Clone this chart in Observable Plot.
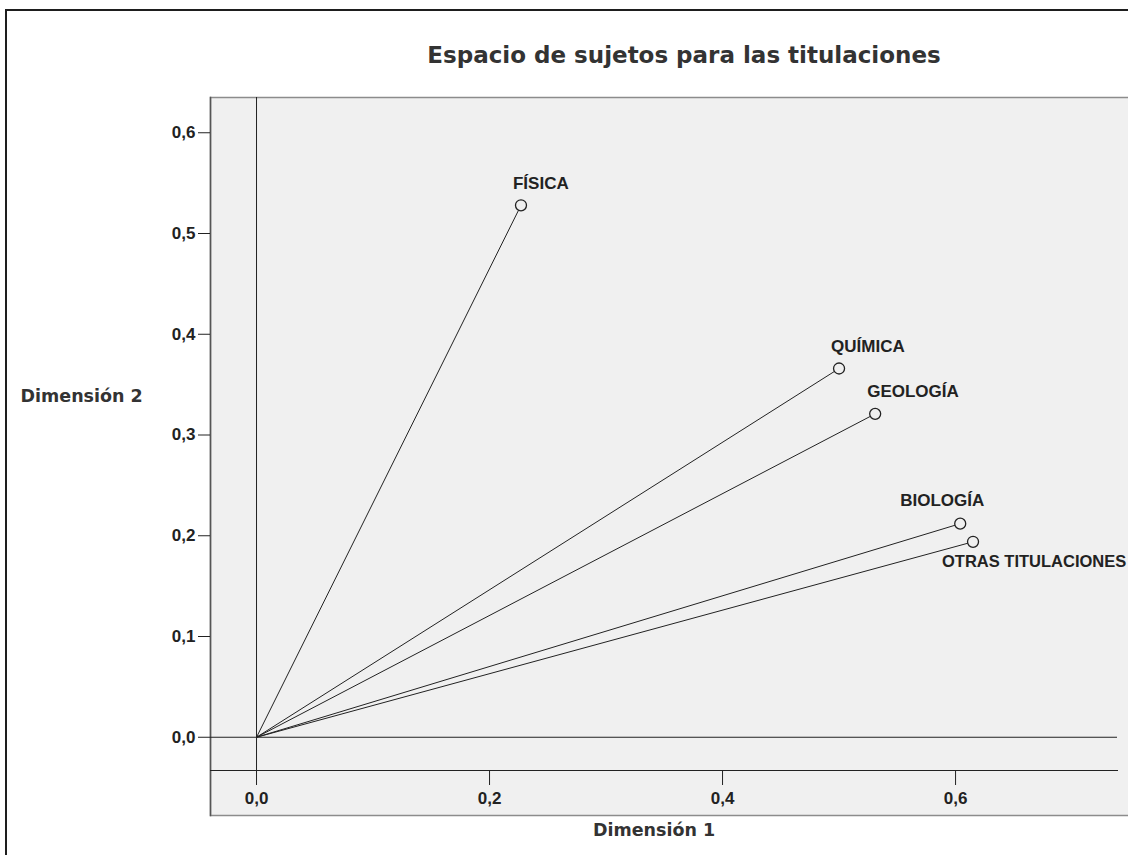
<!DOCTYPE html>
<html>
<head>
<meta charset="utf-8">
<script src="https://cdn.jsdelivr.net/npm/d3@7"></script>
<script src="https://cdn.jsdelivr.net/npm/@observablehq/plot@0.6"></script>
<style>
  html, body { margin: 0; padding: 0; background: #fff; overflow: hidden; }
  #wrap { position: relative; width: 1128px; height: 855px; overflow: hidden; }
  #border { position: absolute; left: 5px; top: 9px; width: 2000px; height: 2000px;
            border-left: 2px solid #1e1e1e; border-top: 2px solid #1e1e1e; }
  #chart { position: absolute; left: 0; top: 0; }
</style>
</head>
<body>
<div id="wrap"><div id="border"></div><div id="chart"></div></div>
<script>
const names = ["FÍSICA", "QUÍMICA", "GEOLOGÍA", "BIOLOGÍA", "OTRAS TITULACIONES"];
const dim1 = [0.227, 0.500, 0.531, 0.604, 0.615];
const dim2 = [0.528, 0.366, 0.321, 0.212, 0.194];
const xTicks = [0, 0.2, 0.4, 0.6];
const yTicks = [0, 0.1, 0.2, 0.3, 0.4, 0.5, 0.6];
const title = "Espacio de sujetos para las titulaciones";
const xLabel = "Dimensión 1";
const yLabel = "Dimensión 2";

const data = names.map((n, i) => ({name: n, d1: dim1[i], d2: dim2[i]}));
const fmt = d => d.toFixed(1).replace(".", ",");
const labelFont = "Liberation Sans, Arial, sans-serif";
const titleFont = "DejaVu Sans, Verdana, sans-serif";
const ink = "#222";

const groupAbove = ["FÍSICA", "QUÍMICA", "GEOLOGÍA"];

const chart = Plot.plot({
  width: 1128,
  height: 855,
  marginLeft: 210,
  marginRight: 11,
  marginTop: 97,
  marginBottom: 85,
  style: {background: "transparent", overflow: "visible"},
  x: {domain: [-0.0395, 0.739]},
  y: {domain: [-0.033, 0.635]},
  marks: [
    Plot.frame({fill: "#f0f0f0", stroke: "#8c8c8c", strokeWidth: 1.5, insetRight: -40, insetBottom: -45}),
    Plot.frame({anchor: "left", stroke: "#555", strokeWidth: 1.5, insetBottom: -45}),
    Plot.frame({anchor: "bottom", stroke: ink, strokeWidth: 1}),
    Plot.ruleY([0], {stroke: ink, strokeWidth: 1}),
    Plot.ruleX([0], {stroke: ink, strokeWidth: 1}),
    Plot.axisX({ticks: xTicks, anchor: "bottom", tickSize: 15, tickPadding: 6, tickFormat: fmt,
      fontSize: 17, fontWeight: "bold", fontFamily: labelFont, label: null, stroke: ink, fill: ink}),
    Plot.axisY({ticks: yTicks, anchor: "left", tickSize: 12, tickPadding: 3, tickFormat: fmt,
      fontSize: 17, fontWeight: "bold", fontFamily: labelFont, label: null, stroke: ink, fill: ink}),
    Plot.link(data, {x1: () => 0, y1: () => 0, x2: "d1", y2: "d2", stroke: ink, strokeWidth: 1}),
    Plot.dot(data, {x: "d1", y: "d2", r: 5.5, stroke: ink, strokeWidth: 1.3, fill: "#f0f0f0"}),
    Plot.text(data.filter(d => groupAbove.includes(d.name)), {x: "d1", y: "d2", text: "name",
      textAnchor: "start", dx: -8, dy: -22, fontSize: 17, fontWeight: "bold", fontFamily: labelFont, fill: ink}),
    Plot.text(data.filter(d => d.name === "BIOLOGÍA"), {x: "d1", y: "d2", text: "name",
      textAnchor: "start", dx: -60, dy: -23, fontSize: 17, fontWeight: "bold", fontFamily: labelFont, fill: ink}),
    Plot.text(data.filter(d => d.name === "OTRAS TITULACIONES"), {x: "d1", y: "d2", text: "name",
      textAnchor: "start", dx: -31, dy: 20, fontSize: 16.5, fontWeight: "bold", fontFamily: labelFont, fill: ink}),
    Plot.text([title], {frameAnchor: "top", lineAnchor: "middle", dx: 20, dy: -42, fontSize: 23, fontWeight: "bold",
      fontFamily: titleFont, fill: "#333"}),
    Plot.text([yLabel], {frameAnchor: "left", lineAnchor: "middle", textAnchor: "start", dx: -190, dy: -38, fontSize: 17.5,
      fontWeight: "bold", fontFamily: titleFont, fill: "#333"}),
    Plot.text([xLabel], {frameAnchor: "bottom", lineAnchor: "middle", dx: -10, dy: 60, fontSize: 17.5,
      fontWeight: "bold", fontFamily: titleFont, fill: "#333"})
  ]
});
document.getElementById("chart").appendChild(chart);
</script>
</body>
</html>
